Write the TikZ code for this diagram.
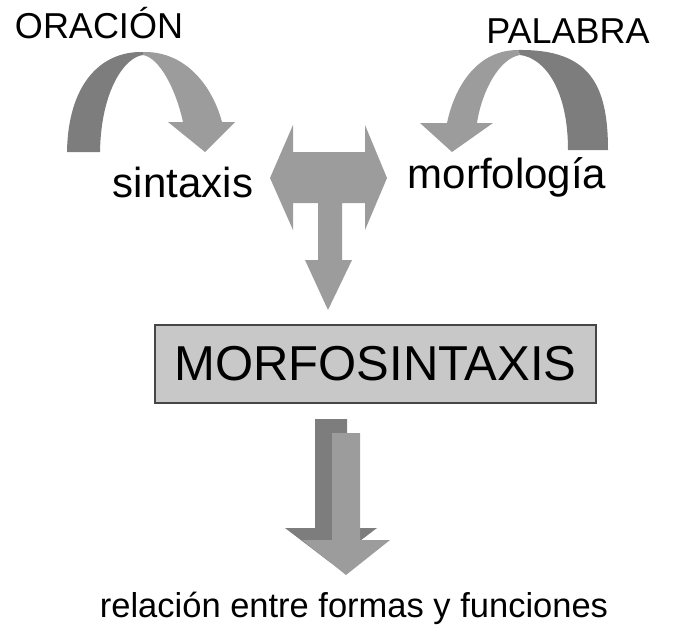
\documentclass[tikz,border=0pt]{standalone}
\usepackage{fontspec}
\setmainfont{Liberation Sans}
\definecolor{arrowdark}{RGB}{125,125,125}
\definecolor{arrowlight}{RGB}{156,156,156}
\definecolor{boxfill}{RGB}{200,200,200}
\definecolor{boxline}{RGB}{70,70,70}
\begin{document}
\begin{tikzpicture}[x=1pt, y=-1pt,
		word/.style={anchor=base, inner sep=0pt, font=\fontsize{36}{40}\selectfont},
		bigword/.style={anchor=base, inner sep=0pt, font=\fontsize{42}{46}\selectfont}]
		\useasboundingbox (0, 0) rectangle (694, 633);

		% curved arrow ORACION -> sintaxis
		\fill[arrowdark]	(67, 152) .. controls (68, 85) and (100, 51) .. (143, 52) -- (143, 55) .. controls (125, 57) and (101, 90) .. (100, 152) -- cycle;
		\fill[arrowlight]	(143, 52) .. controls (185, 51) and (212, 85) .. (222, 122) -- (235, 122) -- (205, 152) -- (168, 122) -- (183, 122) .. controls (176, 90) and (160, 58) .. (143, 55) -- cycle;

		% curved arrow PALABRA -> morfologia
		\fill[arrowdark]	(608, 150) .. controls (608, 85) and (590, 49) .. (518, 50) -- (520, 55) .. controls (545, 58) and (568, 90) .. (568, 150) -- cycle;
		\fill[arrowlight]	(518, 50) .. controls (478, 50) and (455, 85) .. (447, 123) -- (420, 123) -- (452, 152) -- (493, 123) -- (477, 123) .. controls (482, 90) and (500, 58) .. (520, 55) -- cycle;

		% T shaped arrow
		\fill[arrowlight]	(270, 178) -- (293, 125) -- (293, 152) -- (365, 152) -- (365, 125) -- (387, 178) -- (365, 230) -- (365, 203)
			-- (342, 203) -- (342, 260) -- (352, 260) -- (328, 310) -- (305, 260) -- (318, 260) -- (318, 203) -- (293, 203) -- (293, 230) -- cycle;

		% block arrow below the box
		\fill[arrowdark]	(315, 419) -- (347, 419) -- (347, 528) -- (377, 528) -- (331, 563) -- (285, 528) -- (315, 528) -- cycle;
		\fill[arrowlight]	(332, 433) -- (360, 433) -- (360, 540) -- (390, 540) -- (346, 575) -- (302, 540) -- (332, 540) -- cycle;

		\node[word]		(oracion)		at (99, 38)		{ORACIÓN};
		\node[word]		(palabra)		at (568, 43)	{PALABRA};
		\node[bigword]	(sintaxis)		at (183, 197)	{sintaxis};
		\node[bigword]	(morfologia)	at (507, 188)	{morfología};

		\node[draw=boxline, line width=1.5pt, fill=boxfill, minimum width=441, minimum height=78, inner sep=0pt,
			font=\fontsize{49}{54}\selectfont] (morfo) at (375.5, 364) {MORFOSINTAXIS};

		\node[word, font=\fontsize{34.5}{38}\selectfont] (relacion) at (354, 617) {relación entre formas y funciones};
	\end{tikzpicture}
\end{document}
